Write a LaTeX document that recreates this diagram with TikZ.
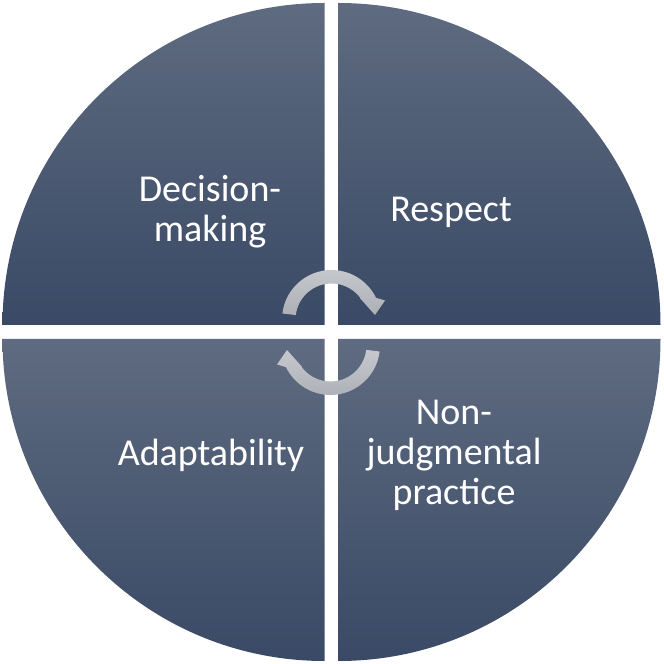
\documentclass[tikz,border=0pt]{standalone}
\usepackage{fontspec}
\setmainfont{Carlito}
\definecolor{qtop}{HTML}{5E6B80}
\definecolor{qbot}{HTML}{3A4965}
\definecolor{atop}{HTML}{C6C8CC}
\definecolor{abot}{HTML}{ACB0B6}
\tikzset{
  quad/.style={top color=qtop, bottom color=qbot, draw=none},
  cyc/.style={top color=atop, bottom color=abot, draw=none},
  lbl/.style={text=white, align=center, inner sep=0pt, font=\fontsize{38}{40}\selectfont}
}
\begin{document}
\begin{tikzpicture}[x=1pt,y=1pt]
\useasboundingbox (0,0) rectangle (664,664);
% quadrants
\shade[quad] (324.5,339) -- (2.5,339) arc[start angle=180, end angle=90, radius=322] -- cycle;
\shade[quad] (338.5,339) -- (338.5,661) arc[start angle=90, end angle=0, radius=322] -- cycle;
\shade[quad] (324.5,325) -- (324.5,3) arc[start angle=270, end angle=180, radius=322] -- cycle;
\shade[quad] (338.5,325) -- (660.5,325) arc[start angle=0, end angle=-90, radius=322] -- cycle;
% cycle arrows
\begin{scope}[shift={(331.5,344.5)}]
\shade[cyc] (173:49.5) arc[start angle=173, end angle=26, radius=49.5]
  -- (53.5,19) -- (43.5,4.5) -- (28.5,21.3) -- (37:36)
  arc[start angle=37, end angle=173, radius=36] -- cycle;
\end{scope}
\begin{scope}[shift={(330.5,318.5)}, rotate=180]
\shade[cyc] (173:49.5) arc[start angle=173, end angle=26, radius=49.5]
  -- (53.5,19) -- (43.5,4.5) -- (28.5,21.3) -- (37:36)
  arc[start angle=37, end angle=173, radius=36] -- cycle;
\end{scope}
% labels
\node[lbl] (dm) at (210,452.5) {Decision-\\making};
\node[lbl] (rs) at (451,452) {Respect};
\node[lbl] (ad) at (211,208.5) {Adaptability};
\node[lbl] (nj) at (454,209) {Non-\\judgmental\\practice};
\end{tikzpicture}
\end{document}
